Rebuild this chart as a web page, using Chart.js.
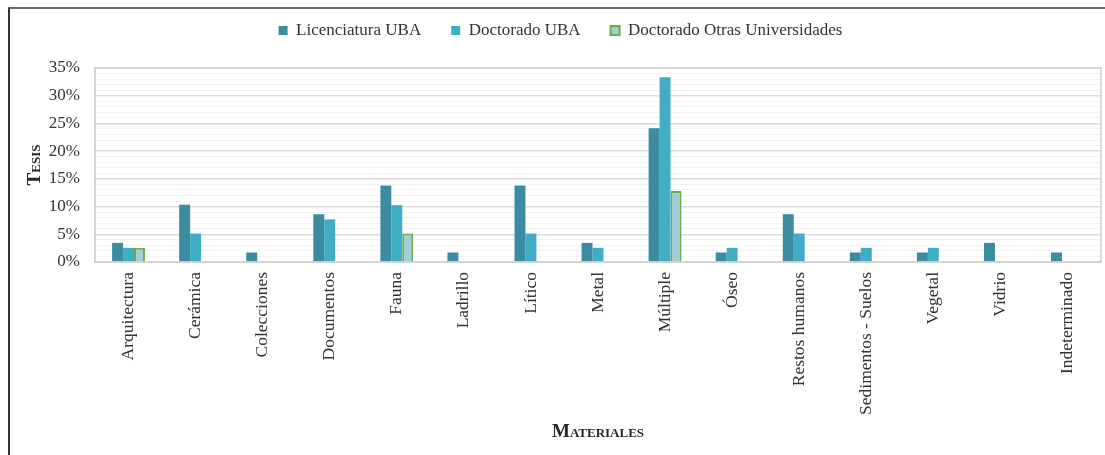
<!DOCTYPE html>
<html>
<head>
<meta charset="utf-8">
<script src="https://cdn.jsdelivr.net/npm/chart.js@4"></script>
<style>
  html, body { margin: 0; padding: 0; background: #fff; }
  #wrap { position: relative; width: 1105px; height: 455px; overflow: hidden; }
  #frame { position: absolute; left: 8px; top: 7px; width: 1200px; height: 600px;
           border-top: 2px solid #666; border-left: 2px solid #333; pointer-events: none; }
</style>
</head>
<body>
<div id="wrap">
  <canvas id="chart" width="1105" height="455"></canvas>
  <div id="frame"></div>
</div>
<script>
/* ── Data (percent of theses per material) ── */
const MATERIALES = ['Arquitectura', 'Cerámica', 'Colecciones', 'Documentos', 'Fauna', 'Ladrillo', 'Lítico',
  'Metal', 'Múltiple', 'Óseo', 'Restos humanos', 'Sedimentos - Suelos', 'Vegetal', 'Vidrio', 'Indeterminado'];
const LIC_UBA  = [3.45, 10.34, 1.72, 8.62, 13.79, 1.72, 13.79, 3.45, 24.14, 1.72, 8.62, 1.72, 1.72, 3.45, 1.72];
const DOC_UBA  = [2.56, 5.13, null, 7.69, 10.26, null, 5.13, 2.56, 33.33, 2.56, 5.13, 2.56, 2.56, null, null];
const DOC_OTRAS = [2.56, null, null, null, 5.13, null, null, null, 12.82, null, null, null, null, null, null];

const SERIF = "'Liberation Serif', 'Times New Roman', serif";
const TXT = '#333';

// plot-area outline (right edge + top)
const frameArea = {
  id: 'frameArea',
  afterDraw(chart) {
    const { ctx, chartArea: a } = chart;
    ctx.save();
    ctx.strokeStyle = '#d0d0d0';
    ctx.lineWidth = 1.5;
    ctx.strokeRect(a.left, a.top, a.right - a.left, a.bottom - a.top);
    ctx.restore();
  }
};

new Chart(document.getElementById('chart'), {
  type: 'bar',
  data: {
    labels: MATERIALES,
    datasets: [
      { label: 'Licenciatura UBA', data: LIC_UBA, backgroundColor: '#3b8ba1', borderColor: '#3b8ba1', borderWidth: 0 },
      { label: 'Doctorado UBA', data: DOC_UBA, backgroundColor: '#40adc4', borderColor: '#40adc4', borderWidth: 0 },
      { label: 'Doctorado Otras Universidades', data: DOC_OTRAS, backgroundColor: '#a2cdd8', borderColor: '#6aab45', borderWidth: 2 }
    ]
  },
  options: {
    responsive: false,
    animation: false,
    datasets: { bar: { categoryPercentage: 0.49, barPercentage: 1 } },
    layout: { padding: { top: -8, right: 4, bottom: 0, left: 20 } },
    plugins: {
      legend: {
        position: 'top',
        labels: { font: { family: SERIF, size: 17 }, color: TXT, boxWidth: 9, boxHeight: 9, padding: 30 }
      },
      tooltip: { enabled: false }
    },
    scales: {
      xTop: {
        type: 'category', position: 'top', display: true,
        grid: { display: false }, border: { display: false }, ticks: { display: false },
        afterFit: s => { s.height = 19; }
      },
      x: {
        position: 'bottom',
        grid: { display: false },
        border: { display: true, color: '#d9d9d9', width: 2 },
        ticks: { font: { family: SERIF, size: 17.5 }, color: TXT, minRotation: 90, maxRotation: 90, padding: 2, autoSkip: false },
        title: { display: true, text: 'Materiales', color: '#262626',
                 font: { family: SERIF, size: 19, weight: 'small-caps bold' }, padding: { top: 0, bottom: 12 } },
        afterFit: s => { s.height = 193; }
      },
      y: {
        min: 0, max: 35,
        grid: {
          drawTicks: false,
          color: c => c.tick.value % 5 === 0 ? '#d9d9d9' : '#f3f3f3',
          lineWidth: c => c.tick.value % 5 === 0 ? 1.5 : 1
        },
        border: { display: true, color: '#d0d0d0', width: 1.5 },
        ticks: {
          stepSize: 1, autoSkip: false, padding: 15,
          font: { family: SERIF, size: 17 }, color: TXT,
          callback: v => v % 5 === 0 ? v + '%' : ''
        },
        title: { display: true, text: 'Tesis', color: '#262626',
                 font: { family: SERIF, size: 19, weight: 'small-caps bold' }, padding: { top: 4, bottom: 0 } },
        afterFit: s => { s.width = 75; }
      }
    }
  },
  plugins: [frameArea]
});
</script>
</body>
</html>
